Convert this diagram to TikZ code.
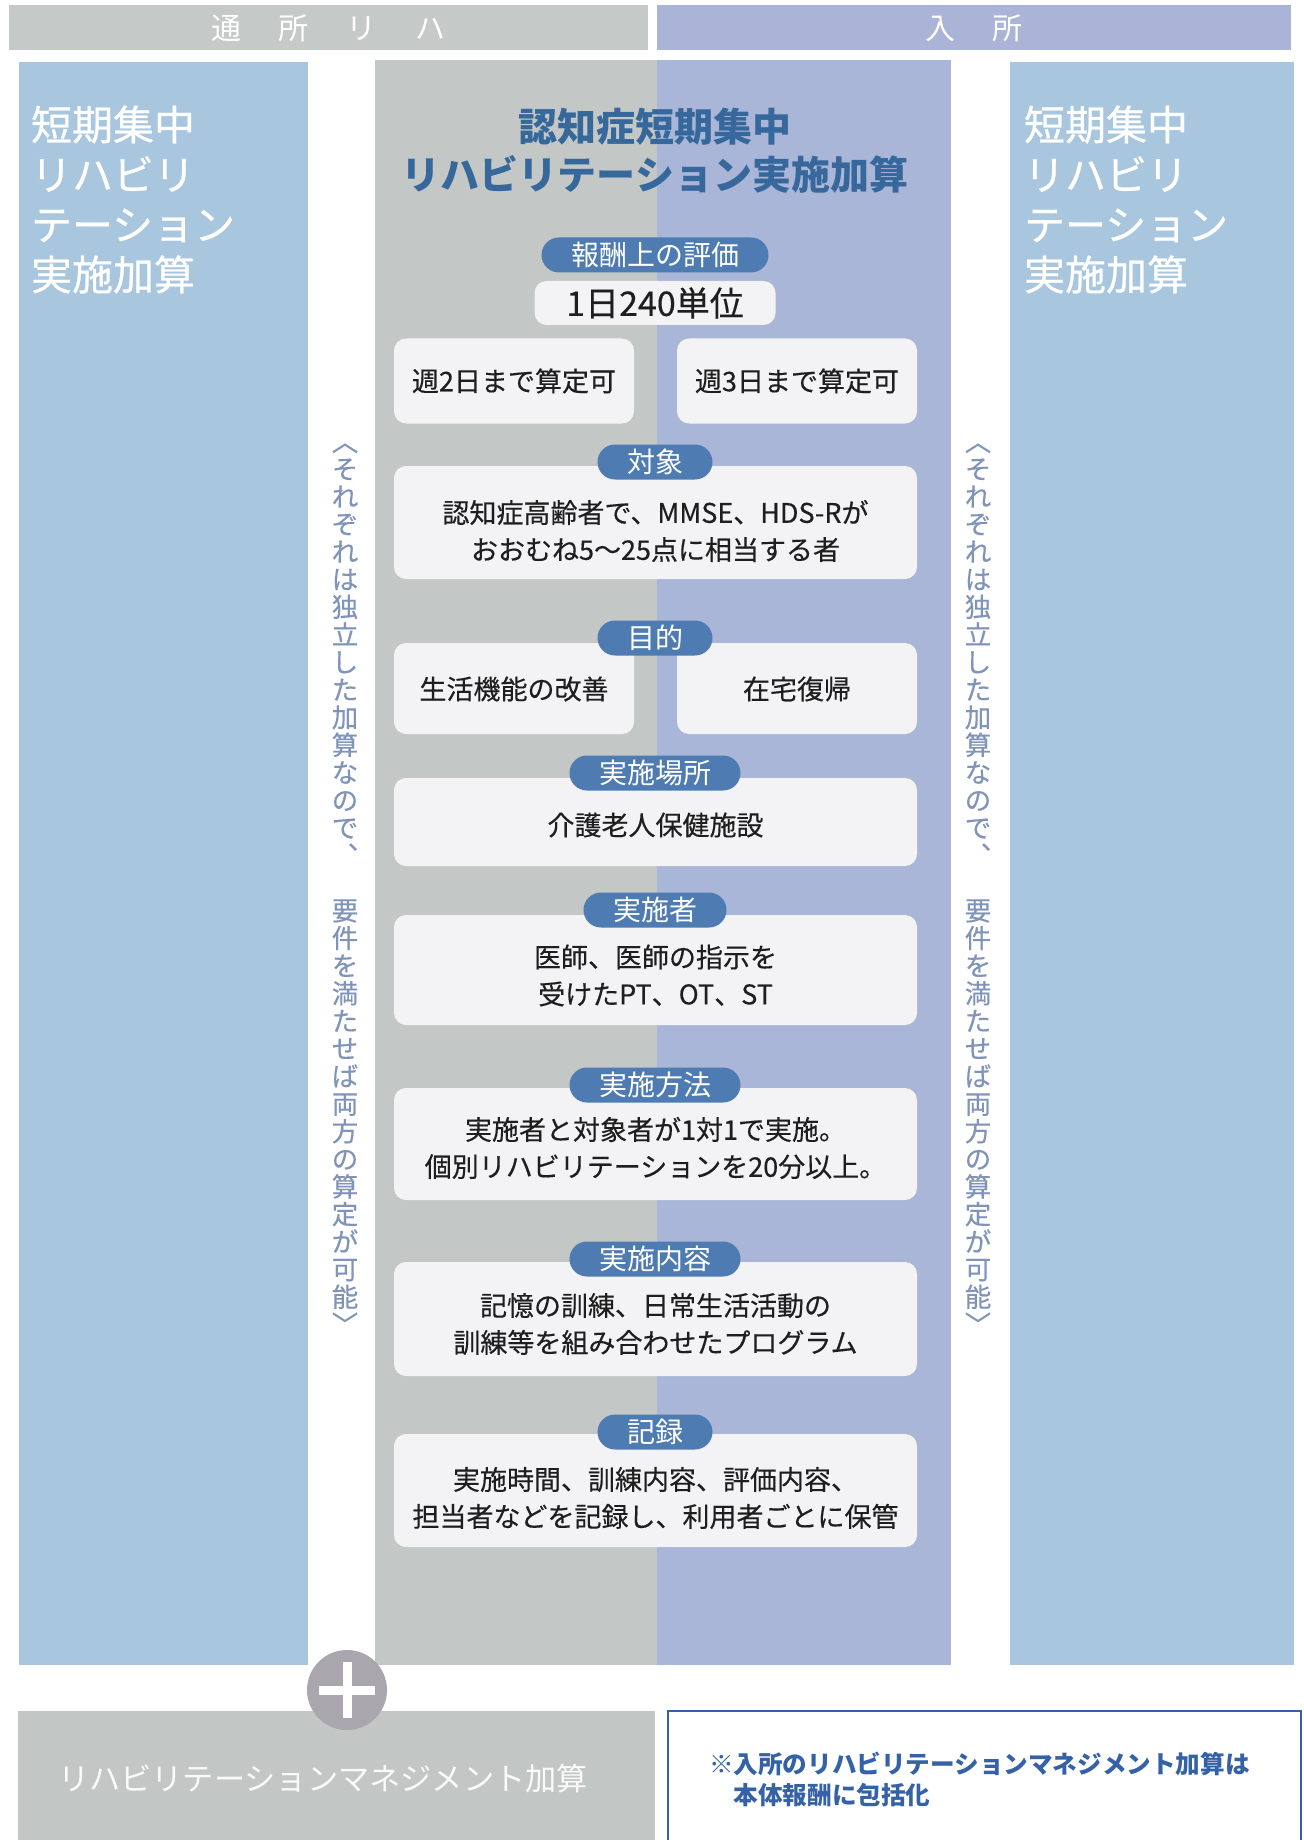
\documentclass[tikz,border=0pt]{standalone}
\usepackage{fontspec}
\setmainfont{Noto Sans CJK JP}
\newfontfamily\jpmed{Noto Sans CJK JP}[FakeBold=0.35]
\newfontfamily\jpsemi{Noto Sans CJK JP}[FakeBold=0.6]
\definecolor{topgray}{HTML}{C5C9C8}
\definecolor{topblue}{HTML}{AAB4D6}
\definecolor{colblue}{HTML}{A9C6DF}
\definecolor{cgray}{HTML}{C3C7C6}
\definecolor{cblue}{HTML}{A9B6D8}
\definecolor{boxfill}{HTML}{F3F3F5}
\definecolor{pillblue}{HTML}{4E7BB2}
\definecolor{titleblue}{HTML}{37689B}
\definecolor{vtext}{HTML}{8094BA}
\definecolor{circcol}{HTML}{A9A6AE}
\definecolor{bgray}{HTML}{C2C6C5}
\definecolor{notecol}{HTML}{3562A6}
\definecolor{bodytext}{HTML}{1E1E1E}
\begin{document}
\begin{tikzpicture}[x=0.5pt,y=-0.5pt,
  every node/.style={inner sep=0pt,outer sep=0pt},
  bx/.style={fill=boxfill,rounded corners=6pt},
  pill/.style={fill=pillblue,rounded corners=8.75pt,text=white,
    font=\fontsize{14}{14}\selectfont,minimum height=17.5pt,inner xsep=14.75pt},
  body/.style={text=bodytext,align=center,font=\jpmed\fontsize{13.5}{18.5}\selectfont},
  coltext/.style={text=white,align=left,anchor=west,font=\jpsemi\fontsize{20.5}{25}\selectfont},
  vert/.style={text=vtext,align=center,font=\jpmed\fontsize{13.2}{13.8}\selectfont},
  bartext/.style={text=white,font=\fontsize{15}{15}\selectfont}]
\path[use as bounding box,fill=white] (0,0) rectangle (1304,1840);
% top bars
\fill[topgray] (9,5) rectangle (648,50);
\fill[topblue] (657,5) rectangle (1291,50);
\node[bartext] (bar1) at (328,28) {通\hspace{19pt}所\hspace{19pt}リ\hspace{19pt}ハ};
\node[bartext] (bar2) at (974,28) {入\hspace{19pt}所};
% columns
\fill[colblue] (19,62) rectangle (308,1665);
\fill[cgray] (375,60) rectangle (657,1665);
\fill[cblue] (657,60) rectangle (951,1665);
\fill[colblue] (1010,62) rectangle (1294,1665);
\node[coltext] (lcol) at (31,199.5) {短期集中\\リハビリ\\テーション\\実施加算};
\node[coltext] (rcol) at (1024,199.5) {短期集中\\リハビリ\\テーション\\実施加算};
% vertical notes
\node[vert] (vl) at (345,889) {︿\\そ\\れ\\ぞ\\れ\\は\\独\\立\\し\\た\\加\\算\\な\\の\\で\\︑\\\mbox{}\\要\\件\\を\\満\\た\\せ\\ば\\両\\方\\の\\算\\定\\が\\可\\能\\﹀};
\node[vert] (vr) at (978,889) {︿\\そ\\れ\\ぞ\\れ\\は\\独\\立\\し\\た\\加\\算\\な\\の\\で\\︑\\\mbox{}\\要\\件\\を\\満\\た\\せ\\ば\\両\\方\\の\\算\\定\\が\\可\\能\\﹀};
% title
\node[text=titleblue,align=center,font=\fontsize{19.5}{24}\selectfont\bfseries] (title) at (655,151) {認知症短期集中\\リハビリテーション実施加算};
% 報酬上の評価
\node[bx,minimum width=120.5pt,minimum height=22pt,font=\jpmed\fontsize{17}{17}\selectfont,text=bodytext] (b1) at (655,303) {1日240単位};
\node[pill] (p1) at (655,255) {報酬上の評価};
\node[bx,minimum width=120pt,minimum height=42.5pt] (b2) at (514,381) {};
\node[body] (t2) at (514,381) {週2日まで算定可};
\node[bx,minimum width=120pt,minimum height=42.5pt] (b3) at (797,381) {};
\node[body] (t3) at (797,381) {週3日まで算定可};
% 対象
\node[bx,minimum width=261.5pt,minimum height=56.5pt] (b4) at (655.5,522.5) {};
\node[pill] (p2) at (655,462) {対象};
\node[body] (t4) at (655.5,531) {認知症高齢者で、MMSE、HDS-Rが\\おおむね5〜25点に相当する者};
% 目的
\node[bx,minimum width=120pt,minimum height=45.5pt] (b5) at (514,688.5) {};
\node[bx,minimum width=120pt,minimum height=45.5pt] (b6) at (797,688.5) {};
\node[pill] (p3) at (655,638) {目的};
\node[body] (t5) at (514,689) {生活機能の改善};
\node[body] (t6) at (797,689) {在宅復帰};
% 実施場所
\node[bx,minimum width=261.5pt,minimum height=44pt] (b7) at (655.5,822) {};
\node[pill] (p4) at (655,773) {実施場所};
\node[body] (t7) at (655.5,825) {介護老人保健施設};
% 実施者
\node[bx,minimum width=261.5pt,minimum height=55pt] (b8) at (655.5,970) {};
\node[pill] (p5) at (655,910) {実施者};
\node[body] (t8) at (655.5,975.5) {医師、医師の指示を\\受けたPT、OT、ST};
% 実施方法
\node[bx,minimum width=261.5pt,minimum height=56pt] (b9) at (655.5,1144) {};
\node[pill] (p6) at (655,1085) {実施方法};
\node[body] (t9) at (655.5,1148) {実施者と対象者が1対1で実施。\\個別リハビリテーションを20分以上。};
% 実施内容
\node[bx,minimum width=261.5pt,minimum height=57pt] (b10) at (655.5,1319) {};
\node[pill] (p7) at (655,1259) {実施内容};
\node[body] (t10) at (655.5,1324) {記憶の訓練、日常生活活動の\\訓練等を組み合わせたプログラム};
% 記録
\node[bx,minimum width=261.5pt,minimum height=56.5pt] (b11) at (655.5,1490.5) {};
\node[pill] (p8) at (655,1432) {記録};
\node[body] (t11) at (655.5,1498) {実施時間、訓練内容、評価内容、\\担当者などを記録し、利用者ごとに保管};
% bottom
\fill[bgray] (18,1711) rectangle (655,1840);
\node[text=white!92!bgray,font=\fontsize{15.6}{15.6}\selectfont] (rm) at (323,1779) {リハビリテーションマネジメント加算};
\node[circle,fill=circcol,minimum size=40pt] (plus) at (347,1690) {};
\fill[white] (319,1685.5) rectangle (375,1694.5);
\fill[white] (342.5,1662) rectangle (351.5,1718);
\draw[notecol,line width=1.1pt,fill=white] (668,1841) -- (668,1711) -- (1301,1711) -- (1301,1841);
\node[text=notecol,align=left,anchor=west,font=\fontsize{12.3}{15.5}\selectfont\bfseries] (note) at (709,1779) {※入所のリハビリテーションマネジメント加算は\\\hspace{1em}本体報酬に包括化};
\end{tikzpicture}
\end{document}
